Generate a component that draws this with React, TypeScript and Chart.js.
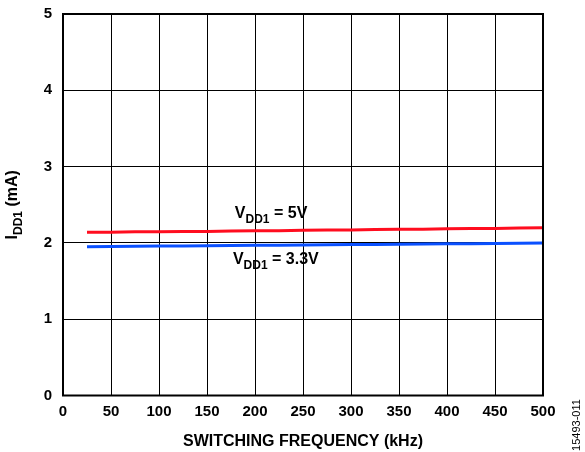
import React, { useEffect, useRef } from "react";
import { Chart, registerables } from "chart.js";

Chart.register(...registerables);

const freqKHz = [25, 50, 75, 100, 125, 150, 175, 200, 225, 250, 275, 300, 325, 350, 375, 400, 425, 450, 475, 500];
const idd5V = [2.14, 2.14, 2.145, 2.145, 2.15, 2.15, 2.155, 2.16, 2.16, 2.165, 2.168, 2.17, 2.175, 2.178, 2.18, 2.185, 2.19, 2.19, 2.195, 2.2];
const idd33V = [1.95, 1.952, 1.955, 1.958, 1.96, 1.962, 1.965, 1.968, 1.97, 1.972, 1.975, 1.978, 1.98, 1.982, 1.985, 1.988, 1.99, 1.993, 1.996, 2.0];
const xTicks = [0, 50, 100, 150, 200, 250, 300, 350, 400, 450, 500];
const yTicks = [0, 1, 2, 3, 4, 5];
const labels5V = { x: 179, y: 2.326, text: "V", sub: "DD1", rest: " = 5V" };
const labels33V = { x: 177, y: 1.723, text: "V", sub: "DD1", rest: " = 3.3V" };
const xTitle = "SWITCHING FREQUENCY (kHz)";
const yTitleMain = "I";
const yTitleSub = "DD1";
const yTitleRest = " (mA)";
const figId = "15493-011";

const FONT = '"Liberation Sans", Arial, Helvetica, sans-serif';

function drawSubText(ctx: CanvasRenderingContext2D, x: number, y: number, main: string, sub: string, rest: string, size: number, subSize: number, subDrop: number) {
  ctx.font = `bold ${size}px ${FONT}`;
  ctx.fillText(main, x, y);
  let cx = x + ctx.measureText(main).width;
  ctx.font = `bold ${subSize}px ${FONT}`;
  ctx.fillText(sub, cx, y + subDrop);
  cx += ctx.measureText(sub).width;
  ctx.font = `bold ${size}px ${FONT}`;
  ctx.fillText(rest, cx, y);
}

function measureSub(ctx: CanvasRenderingContext2D, main: string, sub: string, rest: string, size: number, subSize: number) {
  ctx.font = `bold ${size}px ${FONT}`;
  let w = ctx.measureText(main).width + ctx.measureText(rest).width;
  ctx.font = `bold ${subSize}px ${FONT}`;
  w += ctx.measureText(sub).width;
  return w;
}

const decorPlugin = {
  id: "decor",
  afterDraw(chart: any) {
    const { ctx, chartArea, scales } = chart;
    ctx.save();
    ctx.strokeStyle = "#000";
    ctx.lineWidth = 2;
    ctx.strokeRect(chartArea.left, chartArea.top, chartArea.right - chartArea.left, chartArea.bottom - chartArea.top);
    ctx.fillStyle = "#000";
    ctx.textBaseline = "alphabetic";
    ctx.textAlign = "left";
    for (const a of [labels5V, labels33V]) {
      const px = scales.x.getPixelForValue(a.x);
      const py = scales.y.getPixelForValue(a.y);
      drawSubText(ctx, px, py, a.text, a.sub, a.rest, 16, 12, 5);
    }
    ctx.font = `bold 16px ${FONT}`;
    ctx.textAlign = "center";
    ctx.fillText(xTitle, (chartArea.left + chartArea.right) / 2, 446);
    ctx.textAlign = "left";
    const w = measureSub(ctx, yTitleMain, yTitleSub, yTitleRest, 16, 12);
    ctx.save();
    ctx.translate(17, (chartArea.top + chartArea.bottom) / 2);
    ctx.rotate(-Math.PI / 2);
    drawSubText(ctx, -w / 2, 0, yTitleMain, yTitleSub, yTitleRest, 16, 12, 5);
    ctx.restore();
    ctx.save();
    ctx.translate(580, 425);
    ctx.rotate(-Math.PI / 2);
    ctx.font = `11px ${FONT}`;
    ctx.textAlign = "center";
    ctx.textBaseline = "alphabetic";
    ctx.fillText(figId, 0, 0);
    ctx.restore();
    ctx.restore();
  },
};

export default function App() {
  const ref = useRef<HTMLCanvasElement>(null);
  useEffect(() => {
    if (!ref.current) return;
    const chart = new Chart(ref.current, {
      type: "line",
      data: {
        datasets: [
          {
            label: "VDD1 = 5V",
            data: freqKHz.map((x, i) => ({ x, y: idd5V[i] })),
            borderColor: "#ff0d1f",
            borderWidth: 3,
            pointRadius: 0,
            tension: 0,
          },
          {
            label: "VDD1 = 3.3V",
            data: freqKHz.map((x, i) => ({ x, y: idd33V[i] })),
            borderColor: "#0a50ff",
            borderWidth: 3,
            pointRadius: 0,
            tension: 0,
          },
        ],
      },
      options: {
        responsive: false,
        animation: false,
        devicePixelRatio: 1,
        layout: { padding: { top: 14, right: 42, left: 0, bottom: 0 } },
        plugins: { legend: { display: false }, tooltip: { enabled: false } },
        scales: {
          x: {
            type: "linear",
            min: 0,
            max: 500,
            afterBuildTicks: (s: any) => {
              s.ticks = xTicks.map((v) => ({ value: v }));
            },
            afterFit: (s: any) => {
              s.height = 56.5;
              s.paddingLeft = 0;
              s.paddingRight = 0;
            },
            grid: { color: "#000", lineWidth: 1, drawTicks: false },
            border: { display: false },
            ticks: {
              padding: 7,
              color: "#000",
              font: { family: FONT, size: 15, weight: "bold" },
              maxRotation: 0,
            },
          },
          y: {
            type: "linear",
            min: 0,
            max: 5,
            afterBuildTicks: (s: any) => {
              s.ticks = yTicks.map((v) => ({ value: v }));
            },
            afterFit: (s: any) => {
              s.width = 63;
              s.paddingTop = 0;
              s.paddingBottom = 0;
            },
            grid: { color: "#000", lineWidth: 1, drawTicks: false },
            border: { display: false },
            ticks: {
              padding: 11,
              color: "#000",
              font: { family: FONT, size: 15, weight: "bold" },
            },
          },
        },
      },
      plugins: [decorPlugin],
    } as any);
    return () => chart.destroy();
  }, []);
  return (
    <div style={{ position: "absolute", left: 0, top: 0, width: 585, height: 452, background: "#fff" }}>
      <canvas ref={ref} width={585} height={452} style={{ display: "block" }} />
    </div>
  );
}
